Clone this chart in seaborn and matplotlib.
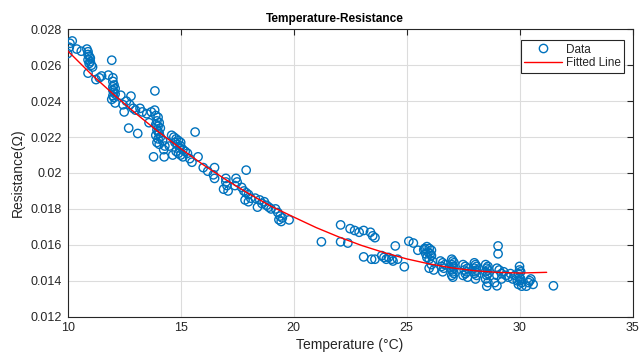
import pandas as pd
import matplotlib
matplotlib.use("Agg")
import matplotlib.pyplot as plt
from matplotlib.lines import Line2D
from matplotlib.ticker import FuncFormatter
import seaborn as sns

# ---------------- data ----------------
temperature = [
    10.0, 10.07, 10.1, 10.2, 10.4, 10.6, 10.85, 10.9, 10.9, 10.95, 11.0, 10.9, 11.0, 10.95, 11.05, 10.9, 11.1,
    11.25, 11.4, 11.5, 11.8, 11.95, 12.0, 12.0, 12.05, 12.0, 12.1, 12.0, 12.05, 12.1, 12.0, 12.05, 11.95, 12.1,
    12.35, 12.45, 12.5, 12.8, 12.75, 12.6, 12.9, 13.0, 12.7, 13.1, 13.2, 13.3, 13.5, 13.7,
    13.85, 13.9, 14.0, 13.95, 14.05, 13.9, 14.0, 14.1, 13.95, 14.0, 14.05, 13.9, 14.1, 14.0, 13.95, 14.05,
    14.2, 14.3, 14.25, 13.8, 14.27, 13.86, 13.6,
    14.6, 14.7, 14.8, 14.9, 14.75, 14.85, 15.0, 14.95, 15.1, 14.8, 14.9, 15.0, 15.1, 15.2, 15.3, 15.4, 14.65,
    15.0, 14.5,
    15.64, 15.77, 16.0, 16.5, 16.45, 16.5, 17.0, 17.0, 17.05, 16.9, 17.1, 17.45, 17.5, 17.4, 17.9, 17.7, 17.8,
    17.9, 18.0, 18.1, 17.85, 18.0, 18.3, 18.5, 18.6, 18.7, 18.8, 18.9, 19.0, 18.4, 19.2, 19.3, 19.4, 19.35,
    19.5, 19.45, 19.8, 16.2, 15.5,
    21.23, 22.08, 22.08, 22.4, 22.5, 22.7, 22.9, 23.1, 23.4, 23.5, 23.6, 23.1, 23.45, 23.6, 23.9, 24.0, 24.1,
    24.2, 24.35, 24.5, 24.4, 24.6, 24.9, 25.1, 25.3, 25.5,
    25.76, 25.85, 25.8,
    25.9, 26.0, 26.1, 25.95, 26.05, 26.1, 25.9, 26.0, 26.15, 26.1, 26.0, 26.2,
    26.5, 26.6, 26.7, 26.55, 26.65, 26.6,
    27.0, 27.05, 27.1, 27.0, 27.05, 27.1, 27.0, 27.05, 27.1, 27.0, 27.05,
    27.5, 27.6, 27.7, 27.55, 27.65, 27.6, 27.5, 27.7,
    28.0, 28.05, 28.1, 28.0, 28.1, 28.05, 28.0, 28.1, 28.05,
    28.5, 28.6, 28.55, 28.6, 28.5, 28.6, 28.55, 28.5, 28.6, 28.55,
    29.05, 29.05, 29.0, 29.0, 29.1, 29.2, 29.0, 29.3, 29.4, 29.5, 29.6, 29.7, 29.8, 29.9,
    30.0, 30.0, 30.05, 29.95, 30.0, 30.05, 30.0, 30.1, 29.95, 30.1, 30.3, 30.4, 30.5, 30.6, 30.45,
    31.5, 28.9, 29.2,
]
resistance = [
    0.02665, 0.0270, 0.02722, 0.02735, 0.0269, 0.02678, 0.0269, 0.02675, 0.0266, 0.0265, 0.0264, 0.0263, 0.0262,
    0.0261, 0.0260, 0.02556, 0.0259,
    0.0252, 0.0253, 0.0254, 0.02545, 0.02628, 0.0253, 0.0251, 0.0249, 0.0248, 0.0247, 0.0246, 0.0245, 0.0244,
    0.0243, 0.0242, 0.0241, 0.0239,
    0.02433, 0.0238, 0.0234, 0.02428, 0.0238, 0.0240, 0.0236, 0.0235, 0.0225, 0.0222, 0.0236, 0.0234, 0.0233,
    0.0234,
    0.0235, 0.0232, 0.0231, 0.0229, 0.0228, 0.0227, 0.0226, 0.0225, 0.0224, 0.0223, 0.0222, 0.0221, 0.0220,
    0.0219, 0.0217, 0.0216,
    0.0218, 0.0215, 0.0213, 0.0209, 0.0209, 0.02457, 0.0228,
    0.0221, 0.0220, 0.0219, 0.0218, 0.0217, 0.0216, 0.0215, 0.0214, 0.0213, 0.0212, 0.0211, 0.0210, 0.0209,
    0.0212, 0.0211, 0.0208, 0.0210,
    0.0217, 0.0215,
    0.02228, 0.0209, 0.0203, 0.0203, 0.0199, 0.0197, 0.0197, 0.0195, 0.0193, 0.0191, 0.0190, 0.0197, 0.0195,
    0.0193, 0.02016, 0.0192, 0.0190,
    0.0189, 0.0188, 0.0186, 0.0185, 0.0184, 0.0186, 0.0185, 0.0183, 0.0184, 0.0182, 0.0181, 0.0180, 0.0181,
    0.0180, 0.0178, 0.0176, 0.0174,
    0.0175, 0.0173, 0.01739, 0.0201, 0.0206,
    0.01617, 0.01711, 0.01617, 0.0161, 0.0169, 0.0168, 0.0167, 0.0168, 0.0167, 0.0165, 0.0164, 0.01533, 0.0152,
    0.0152, 0.0154, 0.0153, 0.0152,
    0.0153, 0.0152, 0.01594, 0.0151, 0.0152, 0.01478, 0.0162, 0.0161, 0.0157,
    0.01572, 0.0155, 0.0158,
    0.0159, 0.0158, 0.0157, 0.0156, 0.0155, 0.0154, 0.0153, 0.0152, 0.0151, 0.0149, 0.0147, 0.0146,
    0.0151, 0.0150, 0.0149, 0.0148, 0.0147, 0.0145,
    0.0152, 0.0151, 0.0150, 0.0149, 0.0148, 0.0147, 0.0146, 0.0145, 0.0144, 0.0143, 0.0142,
    0.0149, 0.0148, 0.0147, 0.0146, 0.0145, 0.0144, 0.0143, 0.0142,
    0.0150, 0.0149, 0.0148, 0.0147, 0.0146, 0.0145, 0.0144, 0.0143, 0.0141,
    0.0149, 0.0148, 0.0147, 0.0146, 0.0145, 0.0144, 0.0143, 0.0141, 0.0139, 0.0137,
    0.01594, 0.0155, 0.01372, 0.0147, 0.0146, 0.0144, 0.0143, 0.0145, 0.0143, 0.0142, 0.0144, 0.0141, 0.0143,
    0.0140,
    0.0148, 0.0146, 0.0145, 0.0144, 0.0142, 0.0141, 0.0140, 0.0139, 0.0138, 0.0137, 0.0137, 0.0139, 0.0141,
    0.0138, 0.0140,
    0.01372, 0.0139, 0.0141,
]
# fitted line at 1 °C steps
fit_temperature = [10, 11, 12, 13, 14, 15, 16, 17, 18, 19, 20, 21, 22, 23, 24, 25, 26, 27, 28, 29, 30, 31.2]
fit_resistance = [0.02680, 0.02555, 0.02441, 0.02333, 0.02231, 0.02136, 0.02046, 0.01963, 0.01886, 0.01815,
                  0.01755, 0.01696, 0.01644, 0.01597, 0.01557, 0.01522, 0.01494, 0.01472, 0.01456, 0.01447,
                  0.01443, 0.01447]
x_ticks = [10, 15, 20, 25, 30, 35]
y_ticks = [0.012, 0.014, 0.016, 0.018, 0.020, 0.022, 0.024, 0.026, 0.028]

# ---------------- figure ----------------
sns.set_style("white")
plt.rcParams["font.family"] = ["Liberation Sans", "DejaVu Sans"]

df = pd.DataFrame({"Temperature": temperature, "Resistance": resistance})
fit_df = pd.DataFrame({"Temperature": fit_temperature, "Resistance": fit_resistance})

W, H = 639, 358
blue = "#0072BD"
dark = "#262626"
fig = plt.figure(figsize=(W / 100, H / 100), dpi=100)
L, R, T, B = 67.7, 632.5, 29.3, 316.7
ax = fig.add_axes([L / W, 1 - B / H, (R - L) / W, (B - T) / H])

sns.scatterplot(data=df, x="Temperature", y="Resistance", ax=ax, marker="o", s=36,
                facecolor="none", edgecolor=blue, linewidth=1.0, zorder=3)
sns.lineplot(data=fit_df, x="Temperature", y="Resistance", ax=ax, color="red",
             linewidth=1.0, zorder=4)

ax.set_xlim(10, 35)
ax.set_ylim(0.012, 0.028)
ax.set_xticks(x_ticks)
ax.set_yticks(y_ticks)
ax.yaxis.set_major_formatter(FuncFormatter(lambda v, p: f"{v:g}"))
ax.grid(True, color="#dcdcdc", linewidth=0.8)
ax.set_axisbelow(True)
ax.tick_params(direction="in", top=True, right=True, length=4, width=0.8,
               labelsize=9, colors=dark, pad=4)
for s in ax.spines.values():
    s.set_color(dark)
    s.set_linewidth(0.8)

ax.set_xlabel("Temperature (°C)", fontsize=10, color=dark, labelpad=3)
ax.set_ylabel("Resistance(Ω)", fontsize=10, color=dark, labelpad=4)
fig.text(335 / W, 1 - 22 / H, "Temperature-Resistance", fontsize=8.6, fontweight="bold",
         color="black", ha="center", va="baseline")

handles = [
    Line2D([], [], marker="o", linestyle="none", markerfacecolor="none", markeredgecolor=blue,
           markersize=6, markeredgewidth=1.0),
    Line2D([], [], color="red", linewidth=1.0),
]
leg = ax.legend(handles, ["Data", "Fitted Line"], loc="upper right",
                bbox_to_anchor=(624 / W, 1 - 40 / H), bbox_transform=fig.transFigure, borderaxespad=0,
                fontsize=8.5, frameon=True, fancybox=False, framealpha=1, edgecolor=dark,
                handlelength=3.2, borderpad=0.3, labelspacing=0.15, handletextpad=0.3)
leg.get_frame().set_linewidth(0.8)

fig.savefig("out.png", dpi=100)
